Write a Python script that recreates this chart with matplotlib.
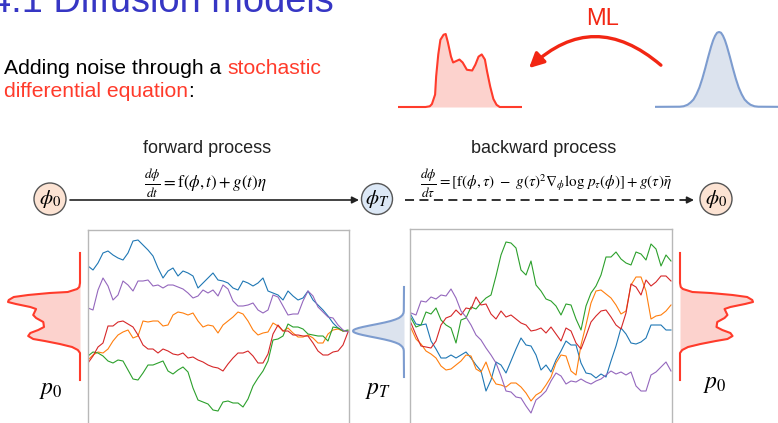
import matplotlib.pyplot as plt
from matplotlib.patches import Circle, FancyArrowPatch
import numpy as np

W, H = 778, 423
plt.rcParams['font.family'] = ['Liberation Sans', 'DejaVu Sans']
plt.rcParams['mathtext.fontset'] = 'stix'

# paths (value per step, 53 steps)
blue_fwd = [6.5, 6.1, 6.8, 7.8, 8.0, 7.6, 7.3, 7.1, 7.8, 9.0, 9.1, 8.6, 8.1, 7.5, 6.3, 5.3, 6.0, 6.3, 5.5, 6.0, 5.8, 5.5, 4.3, 4.8, 5.3, 5.8, 5.1,
            5.0, 4.8, 4.3, 4.1, 5.0, 4.8, 4.5, 4.8, 5.3, 4.0, 3.8, 3.6, 3.1, 4.0, 3.5, 3.1, 3.3, 4.0, 3.1, 2.6, 2.1, 1.5, 0.8, 0.3, 0.0, 0.0]
orange_fwd = [-2.9, -2.4, -2.1, -2.2, -1.8, -1.0, -0.4, -0.1, 0.1, -0.7, -0.5, 1.0, 0.9, 1.0, 1.0, 0.5, 0.6, 1.6, 1.9, 1.8, 1.6, 1.8, 1.0, 0.4, 0.6, 0.5, -0.2,
              0.6, 1.0, 1.4, 1.9, 1.7, 1.0, 0.1, -0.4, -0.2, -0.1, 0.8, 0.5, 0.0, 0.3, -0.2, -0.6, -0.6, -0.4, -0.7, -1.2, -1.2, -0.3, 0.1, 0.2, 0.0, 0.0]
green_fwd = [-2.5, -2.1, -2.2, -2.5, -3.0, -3.2, -2.9, -3.0, -3.9, -4.8, -4.9, -4.2, -3.4, -3.4, -3.2, -3.0, -4.0, -4.3, -3.9, -3.6, -4.1, -5.7, -6.9, -7.1, -7.3, -7.9, -8.0,
             -7.1, -7.0, -7.2, -7.2, -7.6, -6.8, -5.5, -4.7, -4.0, -3.0, -0.9, -0.8, -0.5, 0.7, 0.4, 0.4, 0.2, -0.3, -0.4, -0.5, -0.5, -1.0, 0.4, 0.3, 0.0, 0.1]
red_fwd = [-3.2, -2.5, -1.6, -1.2, 0.5, 0.5, 0.9, 1.0, 0.7, 0.4, -0.4, -1.4, -1.8, -1.8, -2.2, -1.8, -2.0, -2.3, -2.4, -2.2, -2.7, -2.6, -2.9, -3.1, -3.4, -3.6, -3.7,
           -4.0, -3.3, -2.7, -2.2, -2.2, -2.0, -2.5, -3.2, -3.2, -2.3, -0.3, 0.6, 0.0, 0.0, -0.4, -0.4, -0.5, -0.5, -1.2, -2.0, -2.4, -2.4, -2.1, -2.0, -1.4, -0.1]
purple_fwd = [2.3, 2.1, 4.1, 5.3, 4.5, 3.1, 3.6, 5.0, 4.6, 4.0, 5.0, 5.0, 5.1, 4.5, 4.6, 4.3, 4.6, 4.6, 4.4, 4.2, 3.8, 3.3, 3.5, 4.1, 3.8, 4.1, 3.5,
              4.6, 4.2, 3.0, 2.5, 2.5, 2.6, 2.8, 2.1, 1.8, 2.1, 3.6, 3.4, 2.5, 1.6, 1.7, 1.7, 3.0, 4.0, 3.5, 2.4, 1.9, 1.4, 1.3, 0.6, 0.1, -0.1]

blue_bwd = [1.6, 0.7, 0.6, 0.7, -1.0, -1.8, -2.7, -2.7, -2.4, -2.7, -2.4, -2.1, -2.7, -3.4, -4.0, -6.0, -4.9, -3.1, -3.4, -4.2, -3.0, -1.8, -0.7, -1.4, -1.5, -2.4, -3.9,
            -3.4, -4.1, -2.9, -2.0, -1.0, -1.4, -1.4, -3.2, -4.2, -4.3, -4.7, -4.3, -4.6, -3.0, -1.5, 0.3, -0.3, -1.2, -1.3, -1.1, -0.7, 0.6, 0.6, 0.6, 0.1, 0.1]
orange_bwd = [0.3, -0.8, -1.3, -2.0, -2.3, -2.7, -3.5, -3.9, -3.8, -3.4, -3.0, -2.4, -2.5, -3.8, -4.1, -3.1, -4.5, -5.3, -5.4, -5.6, -5.2, -5.2, -5.6, -6.2, -7.0, -6.4, -6.1,
              -5.4, -4.6, -3.2, -2.4, -2.5, -4.0, -4.4, -1.4, 0.6, 2.8, 4.0, 4.1, 3.7, 3.3, 2.6, 1.7, 2.0, 4.6, 5.4, 5.4, 4.0, 1.2, 1.5, 1.6, 2.0, 2.6]
green_bwd = [1.3, 0.4, 0.6, 1.9, 1.7, 2.3, 1.1, 0.6, 0.3, -1.2, 1.1, 1.3, 2.4, 2.2, 2.8, 3.3, 3.6, 5.5, 7.6, 8.9, 8.8, 8.3, 6.1, 5.6, 7.0, 4.6, 4.0,
             3.2, 3.0, 2.5, 1.6, 2.7, 2.6, 1.2, 0.1, 2.5, 3.8, 4.5, 5.6, 7.4, 7.4, 7.9, 7.2, 6.8, 6.6, 7.9, 7.7, 7.1, 8.7, 8.2, 6.5, 7.6, 7.0]
red_bwd = [0.8, -0.4, -1.5, -1.6, -1.7, -1.0, 0.6, 1.3, 1.5, 2.1, 1.6, 2.3, 2.2, 3.4, 2.6, 2.7, 1.7, 1.2, 2.0, 1.4, 1.6, 1.2, 0.8, 0.6, 0.0, 0.1, 0.3,
           -0.2, 0.4, -0.3, -1.0, 0.3, 0.0, -1.2, -1.8, -0.5, 0.9, 1.5, 2.0, 2.1, 1.4, 0.6, 0.2, 1.8, 4.7, 4.4, 3.6, 5.1, 4.5, 4.9, 5.5, 5.5, 5.0]
purple_bwd = [1.8, 1.6, 3.0, 2.9, 3.4, 3.2, 3.6, 3.5, 4.2, 3.3, 2.0, 1.4, 0.6, -0.4, -0.9, -1.7, -2.4, -3.2, -4.5, -6.0, -6.1, -6.6, -6.7, -7.5, -8.2, -6.9, -6.5,
              -6.0, -5.0, -4.2, -4.5, -5.3, -5.0, -5.1, -4.8, -5.1, -5.3, -5.0, -4.8, -4.4, -4.0, -4.3, -4.1, -4.4, -4.1, -5.5, -6.0, -6.0, -4.4, -4.1, -3.6, -3.1, -4.0]

# data distribution p0 (position, density)
p0_pos = [7.8, 4.8, 4.4, 4.2, 3.9, 3.8, 3.6, 3.4, 3.1, 2.9, 2.7, 2.4, 2.2, 1.9, 1.6, 1.3, 0.9, 0.4, 0.1,
          -0.2, -0.5, -0.8, -1.0, -1.3, -1.6, -1.9, -2.2, -4.9]
p0_dens = [0, 0, 0.01, 0.04, 0.17, 0.42, 0.72, 0.92, 0.99, 1.0, 0.89, 0.69, 0.61, 0.63, 0.65, 0.61, 0.51, 0.5, 0.58,
           0.69, 0.72, 0.65, 0.49, 0.28, 0.11, 0.03, 0, 0]
# noise distribution pT
pT_pos = [4.4, 2.0, 1.8, 1.6, 1.45, 1.3, 1.15, 1.0, 0.85, 0.7, 0.55, 0.4, 0.3, 0.2, 0.1, 0.0,
          -0.1, -0.2, -0.3, -0.4, -0.55, -0.7, -0.85, -1.0, -1.15, -1.3, -1.45, -1.6, -1.8, -2.0, -4.6]
pT_dens = [0, 0.004, 0.01, 0.03, 0.06, 0.1, 0.17, 0.26, 0.38, 0.52, 0.67, 0.81, 0.89, 0.95, 0.99, 1.0,
           0.99, 0.95, 0.89, 0.81, 0.67, 0.52, 0.38, 0.26, 0.17, 0.1, 0.06, 0.03, 0.01, 0.004, 0]

colors = ['#1f77b4', '#ff7f0e', '#2ca02c', '#d62728', '#9467bd']
RED = '#ff3b2b'
RED_FILL = '#fcd2cd'
BLUE = '#7d9ccf'
BLUE_FILL = '#dce3ee'

fig = plt.figure(figsize=(W / 100, H / 100), dpi=100)
bg = fig.add_axes([0, 0, 1, 1])
bg.set_xlim(0, W)
bg.set_ylim(H, 0)
bg.axis('off')


def px_axes(x0, y0, x1, y1):
    ax = fig.add_axes([x0 / W, 1 - y1 / H, (x1 - x0) / W, (y1 - y0) / H])
    ax.patch.set_alpha(0)
    return ax


# the two panels with the sample paths
steps = np.arange(len(blue_fwd))
for (x0, x1, y0, xlim, ylim, paths) in [
        (87.7, 349, 230, (-0.06, 52.2), (-10.9, 10.1), [blue_fwd, orange_fwd, green_fwd, red_fwd, purple_fwd]),
        (410, 672, 229, (-0.2, 52.2), (-10.9, 10.2), [blue_bwd, orange_bwd, green_bwd, red_bwd, purple_bwd])]:
    ax = px_axes(x0, y0, x1, 440)
    for vals, c in zip(paths, colors):
        ax.plot(steps, vals, color=c, lw=0.8)
    ax.set_xlim(*xlim)
    ax.set_ylim(*ylim)
    ax.set_xticks([])
    ax.set_yticks([])
    for s in ax.spines.values():
        s.set_color('#b8b8b8')
        s.set_linewidth(1.0)


def vdensity(ax, pos, dens, line, fill):
    ax.fill_betweenx(pos, 0, dens, color=fill, lw=0)
    ax.plot(dens, pos, color=line, lw=1.5, clip_on=False)
    ax.set_ylim(-10.9, 10.1)
    ax.axis('off')


def hdensity(ax, pos, dens, line, fill):
    ax.fill_between(pos, 0, dens, color=fill, lw=0)
    ax.plot(pos, dens, color=line, lw=1.5)
    ax.axis('off')


a = px_axes(0, 230, 80, 440)
vdensity(a, p0_pos, p0_dens, RED, RED_FILL)
a.set_xlim(80 / 72, 0)

a = px_axes(680, 230, 778, 440)
vdensity(a, p0_pos, p0_dens, RED, RED_FILL)
a.set_xlim(0, 98 / 73)

a = px_axes(340, 230, 404, 440)
vdensity(a, pT_pos, pT_dens, BLUE, BLUE_FILL)
a.set_xlim(64 / 51, 0)

a = px_axes(398, 20, 522, 110)
hdensity(a, p0_pos, p0_dens, RED, RED_FILL)
a.set_xlim(7.4, -4.3)
a.set_ylim(-3 / 73, 87 / 73)

a = px_axes(655, 20, 778, 110)
hdensity(a, pT_pos, pT_dens, BLUE, BLUE_FILL)
a.set_xlim(-3.26, 3.0)
a.set_ylim(-0.04, 1.16)

# ML arrow
bg.add_patch(FancyArrowPatch((663, 67), (527, 70), connectionstyle='arc3,rad=0.46',
                             arrowstyle='-|>', mutation_scale=22, lw=2.4, color='#f22613'))
bg.text(603, 25, 'ML', fontsize=17, color='#f22613', ha='center', va='baseline')

# title (cut off at the top, as on the slide) and intro text
bg.text(334, 12, '4.1 Diffusion models', fontsize=27.4, color='#3636c4', ha='right', va='baseline')
tf = dict(fontsize=15.2, va='baseline')
bg.text(4, 74, 'Adding noise through a', color='black', **tf)
full = bg.text(4, 74, 'Adding noise through a stochastic', alpha=0, **tf)
fig.canvas.draw()
x_end = bg.transData.inverted().transform((full.get_window_extent().x1, 0))[0]
bg.text(x_end, 74, 'stochastic', color=RED, ha='right', **tf)
de = bg.text(4, 97, 'differential equation', color=RED, **tf)
fig.canvas.draw()
x_end = bg.transData.inverted().transform((de.get_window_extent().x1, 0))[0]
bg.text(x_end, 97, ':', color='black', **tf)

# process row
bg.text(207, 153, 'forward process', fontsize=13, ha='center', va='baseline', color='#222222')
bg.text(544, 153, 'backward process', fontsize=13, ha='center', va='baseline', color='#222222')
bg.text(152, 183, r'$\frac{d\phi}{dt}$', fontsize=13.5, ha='center', va='center')
bg.text(161, 183, r'$= \mathrm{f}(\phi,t) + g(t)\eta$', fontsize=12.2, ha='left', va='center')
bg.text(428, 183, r'$\frac{d\phi}{d\tau}$', fontsize=13.5, ha='center', va='center')
bg.text(437, 183, r'$= [\mathrm{f}(\phi,\tau)\ -\ g(\tau)^2\nabla_{\phi}\log\, p_{\tau}(\phi)] + g(\tau)\bar{\eta}$',
        fontsize=10.9, ha='left', va='center')

for (cx, r, fc, lab) in [(50, 16, '#fce3d3', r'$\phi_0$'), (377, 15.5, '#dce8f6', r'$\phi_T$'),
                         (716, 16, '#fce3d3', r'$\phi_0$')]:
    bg.add_patch(Circle((cx, 199), r, fc=fc, ec='#555555', lw=1.0))
    bg.text(cx, 199, lab, fontsize=15, ha='center', va='center')

bg.annotate('', xy=(359, 200), xytext=(70, 200),
            arrowprops=dict(arrowstyle='-|>', color='#222222', lw=1.2, mutation_scale=10, shrinkA=0, shrinkB=0))
bg.plot([405, 688], [200, 200], color='#222222', lw=1.3, ls=(0, (5, 3)))
bg.annotate('', xy=(694, 200), xytext=(686, 200),
            arrowprops=dict(arrowstyle='-|>', color='#222222', lw=1.2, mutation_scale=10, shrinkA=0, shrinkB=0))

bg.text(51, 394, r'$p_0$', fontsize=17, ha='center', va='baseline')
bg.text(378, 394, r'$p_T$', fontsize=17, ha='center', va='baseline')
bg.text(715, 388, r'$p_0$', fontsize=17, ha='center', va='baseline')

fig.savefig('out.png', dpi=100)
